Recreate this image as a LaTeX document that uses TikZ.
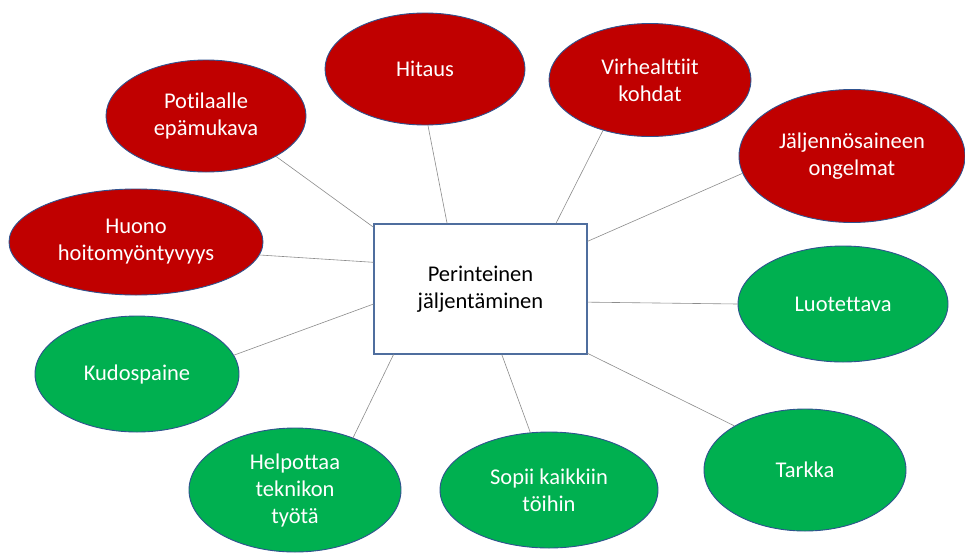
\documentclass[tikz,border=0pt]{standalone}
\usepackage{fontspec}
\setmainfont{Carlito}[Ligatures={NoCommon,NoContextual}]
\usetikzlibrary{shapes.geometric}
\definecolor{badred}{HTML}{C00000}
\definecolor{goodgreen}{HTML}{00B050}
\definecolor{edgeblue}{HTML}{2F528F}
\definecolor{boxblue}{HTML}{4F6E9E}
\definecolor{linkgray}{HTML}{8C8C8C}
\tikzset{
  bubble/.style={ellipse, draw=edgeblue, line width=0.9pt, inner sep=0pt, align=center,
    text=white, font=\fontsize{22.5}{27}\selectfont},
  bad/.style={bubble, fill=badred},
  good/.style={bubble, fill=goodgreen},
  centerbox/.style={rectangle, draw=boxblue, line width=1.1pt, fill=white, align=center,
    minimum width=213pt, minimum height=130pt, inner sep=0pt, text=black,
    font=\fontsize{22.5}{27}\selectfont},
  link/.style={draw=linkgray, line width=0.6pt}
}
\begin{document}
\begin{tikzpicture}[x=1pt,y=-1pt]
\useasboundingbox[fill=white] (0,0) rectangle (965,557);
\node[centerbox] (c) at (480.5,289) {Perinteinen\\jäljentäminen};
\node[bad, minimum width=200pt, minimum height=112pt] (pot) at (206,116) {Potilaalle\\epämukava};
\node[bad, minimum width=200pt, minimum height=112pt] (hit) at (425,69) {Hitaus};
\node[bad, minimum width=202pt, minimum height=113pt] (vir) at (650,80) {Virhealttiit\\kohdat};
\node[bad, minimum width=226pt, minimum height=133pt] (jal) at (852,156) {Jäljennösaineen\\ongelmat};
\node[bad, minimum width=254pt, minimum height=106pt] (huo) at (136,242) {Huono\\hoitomyöntyvyys};
\node[good, minimum width=204pt, minimum height=116pt] (kud) at (137,374) {Kudospaine};
\node[good, minimum width=212pt, minimum height=124pt] (hel) at (295,490) {Helpottaa\\teknikon\\työtä};
\node[good, minimum width=218pt, minimum height=116pt] (sop) at (549,490) {Sopii kaikkiin\\töihin};
\node[good, minimum width=202pt, minimum height=122pt] (tar) at (805,470) {Tarkka};
\node[good, minimum width=210pt, minimum height=116pt] (luo) at (843,304) {Luotettava};
\draw[link] (pot.-30) -- (c.150);
\draw[link] (hit.-87) -- (c.117);
\draw[link] (vir.-133) -- (c.41);
\draw[link] (jal.189) -- (c.24);
\draw[link] (huo.-6) -- (c.166);
\draw[link] (kud.11) -- (c.188);
\draw[link] (hel.42) -- (c.217);
\draw[link] (sop.108) -- (c.-72);
\draw[link] (tar.148) -- (c.-31);
\draw[link] (luo.180) -- (c.-7);
\end{tikzpicture}
\end{document}
